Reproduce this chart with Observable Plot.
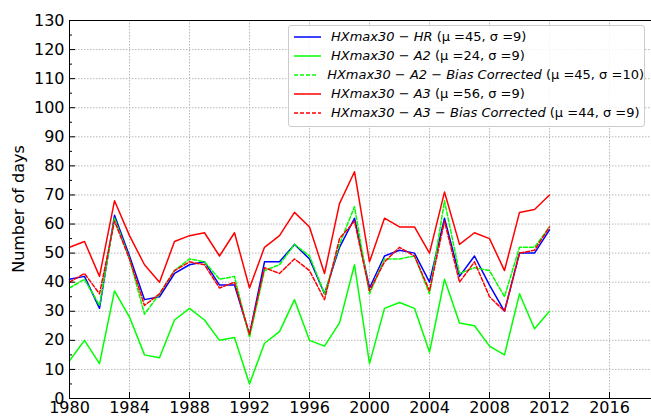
<!DOCTYPE html>
<html><head><meta charset="utf-8">
<script src="https://cdn.jsdelivr.net/npm/d3@7"></script>
<script src="https://cdn.jsdelivr.net/npm/@observablehq/plot@0.6"></script>
<style>
body{margin:0;background:#fff;}
#wrap{position:relative;width:651px;height:418px;font-family:"DejaVu Sans",sans-serif;color:#000;}
#ylabel{position:absolute;left:18px;top:209px;transform:translate(-50%,-50%) rotate(-90deg);white-space:nowrap;font-size:16px;}
.legend{position:absolute;left:288px;top:25px;width:357px;height:102px;box-sizing:border-box;border:1px solid #ccc;border-radius:3px;background:rgba(255,255,255,0.85);padding:1px 0 0 5px;font-size:13px;}
.row{display:flex;align-items:center;height:19px;white-space:nowrap;}
.row svg{margin-right:10px;}
.row i{font-style:italic;}
</style>
</head><body>
<div id="wrap"></div>
<script>
const years = d3.range(1980, 2013);
const hr    = [41,42,31,63,49,34,35,43,46,47,39,39,22,47,47,53,48,36,52,62,38,49,51,50,40,62,42,49,39,30,50,50,58];
const a2    = [13,20,12,37,28,15,14,27,31,27,20,21,5,19,23,34,20,18,26,46,12,31,33,31,16,41,26,25,18,15,36,24,30];
const a2bc  = [38,41,32,62,48,29,36,44,48,47,41,42,21,44,46,53,49,36,53,66,36,48,48,49,36,68,43,45,44,35,52,52,59];
const a3    = [52,54,42,68,56,46,40,54,56,57,49,57,38,52,56,64,59,43,67,78,47,62,59,59,50,71,53,57,55,44,64,65,70];
const a3bc  = [40,43,36,61,48,32,36,44,47,46,38,40,22,45,43,48,44,34,55,61,37,47,52,49,37,61,40,47,35,30,50,51,59];
const xTicks = d3.range(1980, 2017, 4);
const yTicks = d3.range(0, 131, 10);
const yMinor = d3.range(5, 131, 10);
const seriesNames = ["HXmax30 − HR","HXmax30 − A2","HXmax30 − A2 − Bias Corrected","HXmax30 − A3","HXmax30 − A3 − Bias Corrected"];
const seriesStats = ["(μ =45, σ =9)","(μ =24, σ =9)","(μ =45, σ =10)","(μ =56, σ =9)","(μ =44, σ =9)"];
const seriesValues = [hr, a2, a2bc, a3, a3bc];
const seriesColors = ["#0000ff","#00ff00","#00ff00","#ff0000","#ff0000"];
const seriesDash = [null, null, "4,2", null, "4,2"];

const lines = seriesValues.map((vals, k) =>
  Plot.line(years, {x: d => d, y: (d, i) => vals[i], stroke: seriesColors[k], strokeWidth: 1.5, strokeDasharray: seriesDash[k]})
);

const chart = Plot.plot({
  width: 651, height: 418,
  marginLeft: 69, marginRight: 0, marginTop: 20, marginBottom: 20,
  style: {fontFamily: "DejaVu Sans, sans-serif", fontSize: "16px", color: "#000", background: "#fff"},
  x: {domain: [1980, 2018.8]},
  y: {domain: [0, 130]},
  marks: [
    Plot.gridX(xTicks, {stroke: "#b8b8b8", strokeOpacity: 1, strokeDasharray: "1.5,1.5"}),
    Plot.gridY(yTicks, {stroke: "#b8b8b8", strokeOpacity: 1, strokeDasharray: "1.5,1.5"}),
    ...lines,
    Plot.ruleX([1980], {stroke: "#000"}),
    Plot.ruleY([0], {stroke: "#000"}),
    Plot.ruleY([130], {stroke: "#000"}),
    Plot.axisY(yMinor, {anchor: "left", tickSize: -3, tickFormat: () => "", label: null}),
    Plot.axisY(yTicks, {anchor: "left", tickSize: -6, tickPadding: 11, label: null, fontSize: 16}),
    Plot.axisX(xTicks, {anchor: "bottom", tickSize: -6, tickPadding: 9, label: null, fontSize: 16, tickFormat: d => String(d)})
  ]
});
const wrap = document.getElementById("wrap");
wrap.appendChild(chart);
const yl = document.createElement("div");
yl.id = "ylabel"; yl.textContent = "Number of days";
wrap.appendChild(yl);
const lg = document.createElement("div");
lg.className = "legend";
seriesNames.forEach((name, k) => {
  const row = document.createElement("div");
  row.className = "row";
  row.innerHTML = `<svg width="27" height="10"><line x1="0" x2="27" y1="5" y2="5" stroke="${seriesColors[k]}" stroke-width="1.5" ${seriesDash[k] ? `stroke-dasharray="${seriesDash[k]}"` : ""}/></svg><span><i>${name}</i> ${seriesStats[k]}</span>`;
  lg.appendChild(row);
});
wrap.appendChild(lg);
</script>
</body></html>
